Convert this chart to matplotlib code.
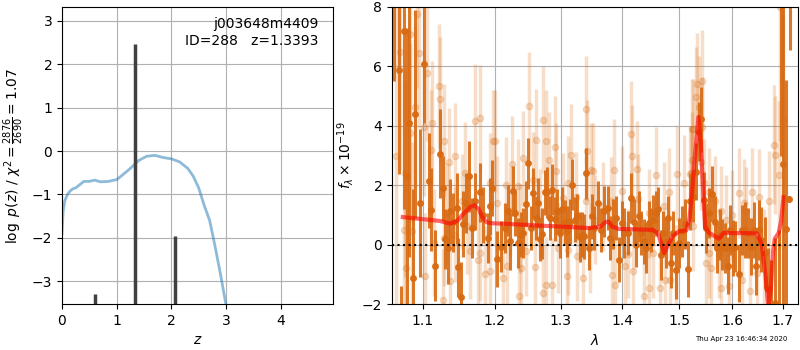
import numpy as np
import matplotlib
matplotlib.use('Agg')
import matplotlib.pyplot as plt
from matplotlib.ticker import NullLocator, FixedLocator, FixedFormatter

# --- p(z) panel ---
z_grid = [0.0, 0.02, 0.05, 0.1, 0.15, 0.2, 0.25, 0.3, 0.4, 0.5, 0.6, 0.7, 0.85, 1.0,
          1.1, 1.25, 1.4, 1.55, 1.7, 1.85, 2.0, 2.15, 2.3, 2.4, 2.5, 2.6, 2.7, 2.8,
          2.9, 3.0]
logpz = [-1.9, -1.4, -1.15, -1.0, -0.92, -0.87, -0.85, -0.80, -0.70, -0.70, -0.67,
         -0.71, -0.70, -0.66, -0.56, -0.40, -0.22, -0.12, -0.10, -0.15, -0.18, -0.25,
         -0.40, -0.58, -0.85, -1.25, -1.6, -2.2, -2.85, -3.55]
z_peaks = [0.6, 1.3393, 2.06]
peak_tops = [-3.3, 2.47, -1.97]

# --- spectrum panel ---
lam_dark = [1.0630, 1.0687, 1.0720, 1.0751, 1.0795, 1.0825, 1.0874, 1.0895, 1.0970, 1.1013,
            1.1080, 1.1116, 1.1160, 1.1227, 1.1268, 1.1305, 1.1341, 1.1377, 1.1418, 1.1465,
            1.1487, 1.1520, 1.1556, 1.1594, 1.1640, 1.1674, 1.1720, 1.1791, 1.1838, 1.1909,
            1.1934,
            1.1958, 1.2033, 1.2097, 1.2145, 1.2193, 1.2227, 1.2265, 1.2305, 1.2339, 1.2388,
            1.2427, 1.2471, 1.2501, 1.2537, 1.2576, 1.2612, 1.2647, 1.2677, 1.2713, 1.2754,
            1.2789, 1.2831, 1.2867, 1.2904, 1.2945, 1.2982, 1.3023, 1.3066, 1.3102, 1.3145,
            1.3181, 1.3224, 1.3261, 1.3300, 1.3342, 1.3369, 1.3406, 1.3450, 1.3494,
            1.3541, 1.3596, 1.3650, 1.3705, 1.3760, 1.3799, 1.3843, 1.3899, 1.3955, 1.3994,
            1.4039, 1.4096, 1.4153, 1.4198, 1.4239, 1.4285, 1.4325, 1.4372, 1.4412, 1.4459,
            1.4500, 1.4541, 1.4584, 1.4625, 1.4672, 1.4714, 1.4761, 1.4809, 1.4850, 1.4899,
            1.4953, 1.5002, 1.5051, 1.5101, 1.5156, 1.5206,
            1.5254, 1.5316, 1.5365, 1.5408, 1.5458, 1.5501, 1.5550, 1.5612, 1.5662, 1.5706,
            1.5756, 1.5802, 1.5865, 1.5916, 1.5960, 1.6012, 1.6057, 1.6134, 1.6186, 1.6251,
            1.6303, 1.6369, 1.6415, 1.6468, 1.6514, 1.6567, 1.6634, 1.6700, 1.6760, 1.6852,
            1.6920, 1.6970, 1.7010, 1.7072, 1.7128, 1.7150]
flux_dark = [9.5, 5.88, -4.0, 7.19, 2.30, 4.09, -1.12, 4.39, 1.40, 6.08,
             2.15, 1.18, -0.70, 3.06, 1.90, 0.19, -0.11, 1.12, 0.75, 1.23,
             -0.76, -1.77, 0.70, 1.40, 2.30, 0.56, 1.46, 1.76, 1.00, 0.22,
             1.29,
             1.90, -0.48, -0.06, 0.56, 1.15, 0.11, 1.81, 1.06, 0.06, 0.34,
             0.39, 1.38, 2.74, 0.56, 1.74, 0.90, 1.40, 0.19, 0.37, 1.76,
             1.76, 0.90, 1.85, 0.86, 1.12, 0.39, 1.20, 0.76, 0.45, 0.78,
             2.02, 0.84, 0.97, 0.26, 0.34, 0.28, 2.40, -0.11, 0.95,
             0.56, 1.40, 0.50, 1.12, 1.23, 0.22, 0.70, 0.90, -0.50, 0.73,
             0.39, 0.39, 1.57, 0.78, 0.00, 0.95, 0.39, 0.11, -0.11, 0.73,
             0.50, 0.84, 1.06, 1.20, -0.34, 0.39, 0.08, 0.90, -0.62, 0.39,
             -0.86, 0.06, 0.45, 0.70, -0.82, 1.46,
             1.62, 2.46, 3.81, 4.22, 1.51, 0.56, 1.06, 1.70, 0.78, -0.11,
             0.34, 0.00, -0.11, -0.70, 0.50, -0.11, -0.06, -0.97, 0.50, 0.50,
             0.39, -0.06, 0.50, -0.70, 0.50, 0.17, -0.28, -1.50, -2.20, -1.96,
             -3.00, 9.00, 2.72, 0.53, 1.55, 10.0]
err_dark = [4.0, 3.5, 2.6, 6.0, 5.0, 4.5, 3.0, 3.5, 2.5, 2.0,
            1.6, 1.4, 1.2, 1.5, 1.1, 1.0, 1.2, 1.1, 1.0, 1.2,
            1.0, 1.2, 1.1, 1.0, 1.2, 1.0, 0.95, 1.0, 0.95, 0.85,
            0.95,
            0.95, 0.95, 0.85, 0.85, 0.85, 0.95, 0.85, 0.75, 0.85, 0.75,
            0.85, 0.75, 0.85, 0.75, 0.85, 0.75, 0.85, 0.75, 0.85, 0.75,
            0.85, 0.75, 0.85, 0.75, 0.75, 0.85, 0.75, 0.75, 0.85, 0.75,
            0.85, 0.75, 0.75, 0.85, 0.75, 0.75, 0.85, 0.75, 0.75,
            0.75, 0.75, 0.75, 0.85, 0.75, 0.75, 0.85, 0.75, 0.75, 0.75,
            0.85, 0.75, 0.85, 0.75, 0.75, 0.85, 0.75, 0.75, 0.85, 0.75,
            0.75, 0.85, 0.75, 0.75, 0.85, 0.75, 0.85, 0.75, 0.85, 0.75,
            0.95, 0.85, 0.85, 0.85, 0.95, 0.95,
            0.85, 0.95, 1.0, 1.1, 0.95, 0.85, 0.85, 0.95, 0.85, 0.85,
            0.85, 0.85, 0.85, 0.95, 0.85, 0.95, 0.85, 0.95, 0.85, 0.95,
            0.85, 0.95, 0.95, 1.0, 1.0, 1.1, 1.2, 1.4, 1.7, 2.2,
            3.5, 6.0, 6.0, 5.0, 0.1, 3.45]

lam_light = [1.0650, 1.0700, 1.0760,
             1.0926, 1.0829, 1.0947, 1.1058, 1.1223, 1.1232, 1.0900, 1.1125, 1.1020, 1.0838,
             1.1110, 1.0773, 1.1363, 1.1439, 1.1282, 1.1715, 1.1785, 1.1580, 1.1930, 1.1979,
             1.1535, 1.1327, 1.1290, 1.1445, 1.0780, 1.1036, 1.1373, 1.1276, 1.1767, 1.1856,
             1.1938, 1.1146, 1.1650, 1.0861, 1.1795, 1.1603,
             1.2006, 1.2512, 1.2725, 1.3400, 1.3420, 1.2904, 1.2777, 1.2623, 1.2249, 1.2421,
             1.3165, 1.2818, 1.2573, 1.2930, 1.3113, 1.2165, 1.2348, 1.3484, 1.2030, 1.2225,
             1.2373, 1.2674, 1.3035, 1.3246, 1.3410, 1.2118, 1.2176, 1.2397, 1.2598, 1.2355,
             1.2730, 1.2772, 1.2862, 1.3097, 1.3353, 1.3120, 1.3250, 1.2469, 1.2955,
             1.4153, 1.4175, 1.4254, 1.3514, 1.3871, 1.4584, 1.4971, 1.5195, 1.5238, 1.4821,
             1.4000, 1.5082, 1.3815, 1.4280, 1.4731, 1.3678, 1.4471, 1.3545, 1.5260, 1.3460,
             1.3832, 1.3880, 1.4056, 1.4185, 1.4372, 1.4459, 1.4665, 1.4749, 1.4830, 1.4941,
             1.4100, 1.4529,
             1.5334, 1.5415, 1.5310, 1.5365, 1.5254, 1.5430, 1.5215, 1.5242, 1.5458, 1.5396,
             1.5550, 1.5783, 1.5675, 1.6218, 1.6382, 1.6528, 1.6715, 1.6121, 1.6255, 1.5870,
             1.5993, 1.5489, 1.5581, 1.5545, 1.5771, 1.5929, 1.6349, 1.6190, 1.6481, 1.5735,
             1.6819, 1.6839, 1.6918, 1.7016, 1.6614, 1.6950, 1.6985]
flux_light = [3.0, 6.5, 0.5,
              7.76, 7.10, 6.44, 5.79, 5.34, 4.89, 4.65, 4.09, 3.95, 3.75,
              3.19, 2.41, 2.80, 2.97, 3.50, 4.17, 4.26, 2.43, 2.07, 3.49,
              1.46, 1.06, 0.22, 0.34, -0.78, -1.04, -1.23, -1.85, -0.50, -0.97,
              -0.90, 0.06, -0.22, 0.45, -0.28, 0.62,
              3.49, 4.67, 4.20, 4.56, 3.16, 3.30, 3.49, 3.53, 2.72, 2.91,
              3.02, 2.86, 2.18, 2.49, 2.07, 2.02, 1.96, 2.50, 1.40, 1.12,
              0.56, 1.06, 1.57, 1.62, 1.46, -1.12, -0.73, -0.78, -0.76, -1.71,
              -1.62, -1.34, -1.37, -1.06, -1.12, -0.19, -0.39, -0.22, -0.11,
              3.72, 2.99, 2.55, 2.49, 2.52, 2.35, 2.39, 2.39, 3.89, 1.77,
              1.81, 2.09, 1.46, 1.55, 1.29, 1.29, 1.06, 0.84, 0.62, -0.11,
              -1.01, -1.34, -0.73, -0.90, -1.74, -1.46, -1.46, -1.18, -1.18, -0.84,
              -0.30, -0.28,
              5.41, 5.52, 4.96, 4.65, 3.89, 3.95, 2.41, 2.86, 2.07, 2.77,
              1.76, 1.15, 1.48, 1.40, 1.76, 1.62, 1.46, 1.74, 1.12, 0.84,
              1.00, -0.62, -0.78, -0.28, -1.46, -1.40, -1.57, -1.18, -0.95, -0.30,
              3.36, 3.02, 2.35, 4.20, -0.50, 8.0, 9.0]
err_light = [6.0, 4.0, 5.0,
             2.5, 3.0, 2.5, 2.3, 2.1, 2.1, 2.7, 2.1, 2.3, 3.0,
             2.0, 3.5, 1.8, 1.8, 1.9, 1.9, 1.8, 1.7, 1.7, 1.7,
             1.6, 1.7, 1.6, 1.6, 3.0, 2.1, 1.7, 1.7, 1.6, 1.6,
             1.6, 1.8, 1.6, 3.0, 1.6, 1.6,
             1.7, 1.8, 1.8, 1.8, 1.7, 1.7, 1.7, 1.7, 1.6, 1.6,
             1.7, 1.6, 1.6, 1.6, 1.6, 1.6, 1.6, 1.6, 1.6, 1.5,
             1.5, 1.5, 1.5, 1.5, 1.5, 1.6, 1.5, 1.5, 1.5, 1.6,
             1.6, 1.6, 1.6, 1.5, 1.6, 1.5, 1.5, 1.5, 1.5,
             1.8, 1.7, 1.6, 1.6, 1.7, 1.6, 1.6, 1.6, 1.7, 1.5,
             1.5, 1.6, 1.5, 1.5, 1.5, 1.5, 1.5, 1.5, 1.5, 1.5,
             1.5, 1.6, 1.5, 1.5, 1.6, 1.6, 1.6, 1.5, 1.5, 1.5,
             1.5, 1.5,
             1.7, 1.7, 1.7, 1.7, 1.7, 1.7, 1.6, 1.6, 1.5, 1.6,
             1.5, 1.5, 1.5, 1.5, 1.5, 1.6, 1.7, 1.5, 1.5, 1.5,
             1.5, 1.5, 1.5, 1.5, 1.5, 1.5, 1.6, 1.5, 1.5, 1.5,
             2.0, 2.0, 2.5, 3.5, 1.7, 4.5, 5.5]

lam_model = [1.074, 1.100, 1.123, 1.137, 1.147, 1.158, 1.166, 1.171, 1.177, 1.183,
             1.189, 1.198, 1.22, 1.26, 1.30, 1.346, 1.365, 1.372, 1.377, 1.384,
             1.395, 1.42, 1.453, 1.462, 1.4735, 1.479, 1.488, 1.500, 1.513, 1.519,
             1.524, 1.529, 1.5355, 1.540, 1.545, 1.548, 1.555, 1.565, 1.574, 1.583,
             1.600, 1.625, 1.648, 1.658, 1.665, 1.671, 1.676, 1.680, 1.684, 1.692,
             1.697, 1.702]
flux_model = [0.93, 0.86, 0.80, 0.71, 0.80, 1.10, 1.28, 1.33, 1.20, 0.90,
              0.75, 0.72, 0.70, 0.65, 0.61, 0.56, 0.62, 0.76, 0.78, 0.60,
              0.53, 0.52, 0.50, 0.39, -0.28, -0.05, 0.28, 0.45, 0.48, 0.90,
              1.80, 3.00, 4.30, 3.40, 1.50, 0.60, 0.40, 0.30, 0.20, 0.40,
              0.39, 0.39, 0.38, 0.0, -1.0, -2.1, -1.5, -0.3, 0.2, 0.4,
              0.8, 1.6]
lam_ticks = [1.1, 1.2, 1.3, 1.4, 1.5, 1.6, 1.7]

orange = '#d86a12'

fig = plt.figure(figsize=(8, 3.5), dpi=100)
ax1 = fig.add_axes([0.0775, 0.131, 0.339, 0.849])
ax2 = fig.add_axes([0.49, 0.131, 0.5075, 0.849])

# left: p(z)
ax1.plot(z_grid, logpz, color='C0', alpha=0.5, lw=2)
ax1.vlines(z_peaks, -4, peak_tops, color='0.25', lw=2.5)
ax1.set_xlim(0, 4.96)
ax1.set_ylim(-3.53, 3.32)
ax1.set_xticks([0, 1, 2, 3, 4])
ax1.set_yticks([-3, -2, -1, 0, 1, 2, 3])
ax1.grid()
ax1.set_xlabel('$z$')
ax1.set_ylabel(r'$\log\ p(z)$ / $\chi^2=\frac{2876}{2690}=1.07$')
ax1.text(0.945, 0.965, 'j003648m4409\nID=288   z=1.3393', ha='right', va='top',
         transform=ax1.transAxes)

# right: spectrum
ax2.errorbar(lam_light, flux_light, yerr=err_light, color=orange, alpha=0.22,
             marker='o', ms=4.5, ls='none', elinewidth=2.5, zorder=1)
ax2.errorbar(lam_dark, flux_dark, yerr=err_dark, color=orange, alpha=0.9,
             marker='o', ms=4, ls='none', elinewidth=2.2, zorder=2)
ax2.plot(lam_model, flux_model, color='red', alpha=0.6, lw=3, zorder=3)
ax2.axhline(0, color='k', ls=':', lw=1.5, zorder=4)
ax2.set_xscale('log')
ax2.set_xlim(1.060, 1.732)
ax2.set_ylim(-2, 8)
ax2.xaxis.set_major_locator(FixedLocator(lam_ticks))
ax2.xaxis.set_major_formatter(FixedFormatter([f'{t:.1f}' for t in lam_ticks]))
ax2.xaxis.set_minor_locator(NullLocator())
ax2.set_yticks([-2, 0, 2, 4, 6, 8])
ax2.grid()
ax2.set_axisbelow(True)
ax2.set_xlabel(r'$\lambda$')
ax2.set_ylabel(r'$f_\lambda\times10^{-19}$')

fig.text(0.984, 0.022, 'Thu Apr 23 16:46:34 2020', ha='right', va='bottom', fontsize=5)

fig.savefig('out.png', dpi=100)
